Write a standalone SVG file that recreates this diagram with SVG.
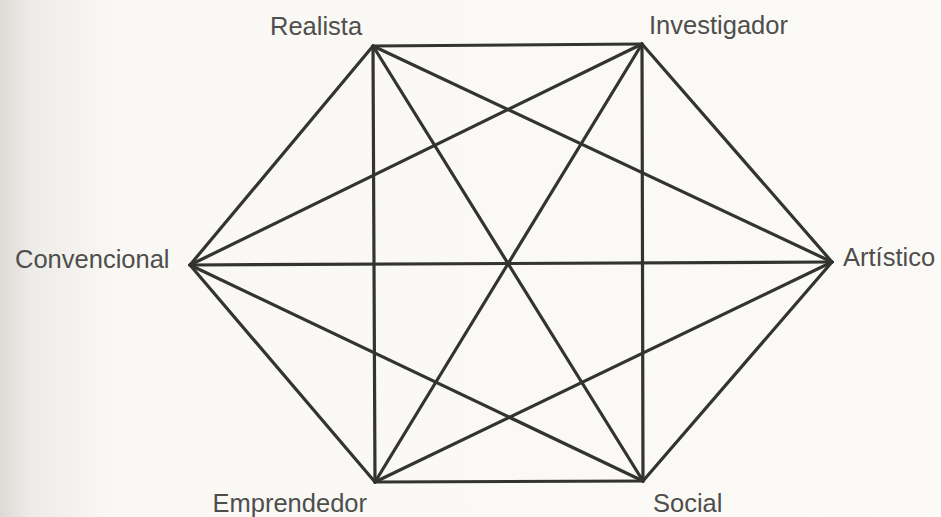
<svg xmlns="http://www.w3.org/2000/svg" width="941" height="517" viewBox="0 0 941 517">
  <defs>
    <linearGradient id="bg" x1="0" y1="0" x2="1" y2="0">
      <stop offset="0" stop-color="#dcdad5"/>
      <stop offset="0.03" stop-color="#ecebe7"/>
      <stop offset="0.12" stop-color="#f9f8f4"/>
      <stop offset="1" stop-color="#fbfaf7"/>
    </linearGradient>
    <style>
      .edge { stroke: #333331; stroke-width: 3.2; stroke-linecap: round; fill: none; }
      .label { font-family: "Liberation Sans", Arial, sans-serif; font-size: 25.5px; fill: #4e4e4c; }
    </style>
  </defs>
  <rect width="941" height="517" fill="url(#bg)"/>
  <g id="connectors">
    <!-- hexagon sides -->
    <line class="edge" x1="373" y1="46" x2="642" y2="44"/>
    <line class="edge" x1="642" y1="44" x2="832" y2="262"/>
    <line class="edge" x1="832" y1="262" x2="643" y2="481"/>
    <line class="edge" x1="643" y1="481" x2="375" y2="482"/>
    <line class="edge" x1="375" y1="482" x2="190" y2="265"/>
    <line class="edge" x1="190" y1="265" x2="373" y2="46"/>
    <!-- diagonals -->
    <line class="edge" x1="373" y1="46" x2="832" y2="262"/>
    <line class="edge" x1="373" y1="46" x2="643" y2="481"/>
    <line class="edge" x1="373" y1="46" x2="375" y2="482"/>
    <line class="edge" x1="642" y1="44" x2="643" y2="481"/>
    <line class="edge" x1="642" y1="44" x2="375" y2="482"/>
    <line class="edge" x1="642" y1="44" x2="190" y2="265"/>
    <line class="edge" x1="832" y1="262" x2="375" y2="482"/>
    <line class="edge" x1="832" y1="262" x2="190" y2="265"/>
    <line class="edge" x1="643" y1="481" x2="190" y2="265"/>
  </g>
  <g id="node-realista">
    <text class="label" x="270" y="35">Realista</text>
  </g>
  <g id="node-investigador">
    <text class="label" x="649" y="34">Investigador</text>
  </g>
  <g id="node-artistico">
    <text class="label" x="843" y="266">Artístico</text>
  </g>
  <g id="node-social">
    <text class="label" x="653" y="512">Social</text>
  </g>
  <g id="node-emprendedor">
    <text class="label" x="367" y="512" text-anchor="end">Emprendedor</text>
  </g>
  <g id="node-convencional">
    <text class="label" x="15" y="268">Convencional</text>
  </g>
</svg>
